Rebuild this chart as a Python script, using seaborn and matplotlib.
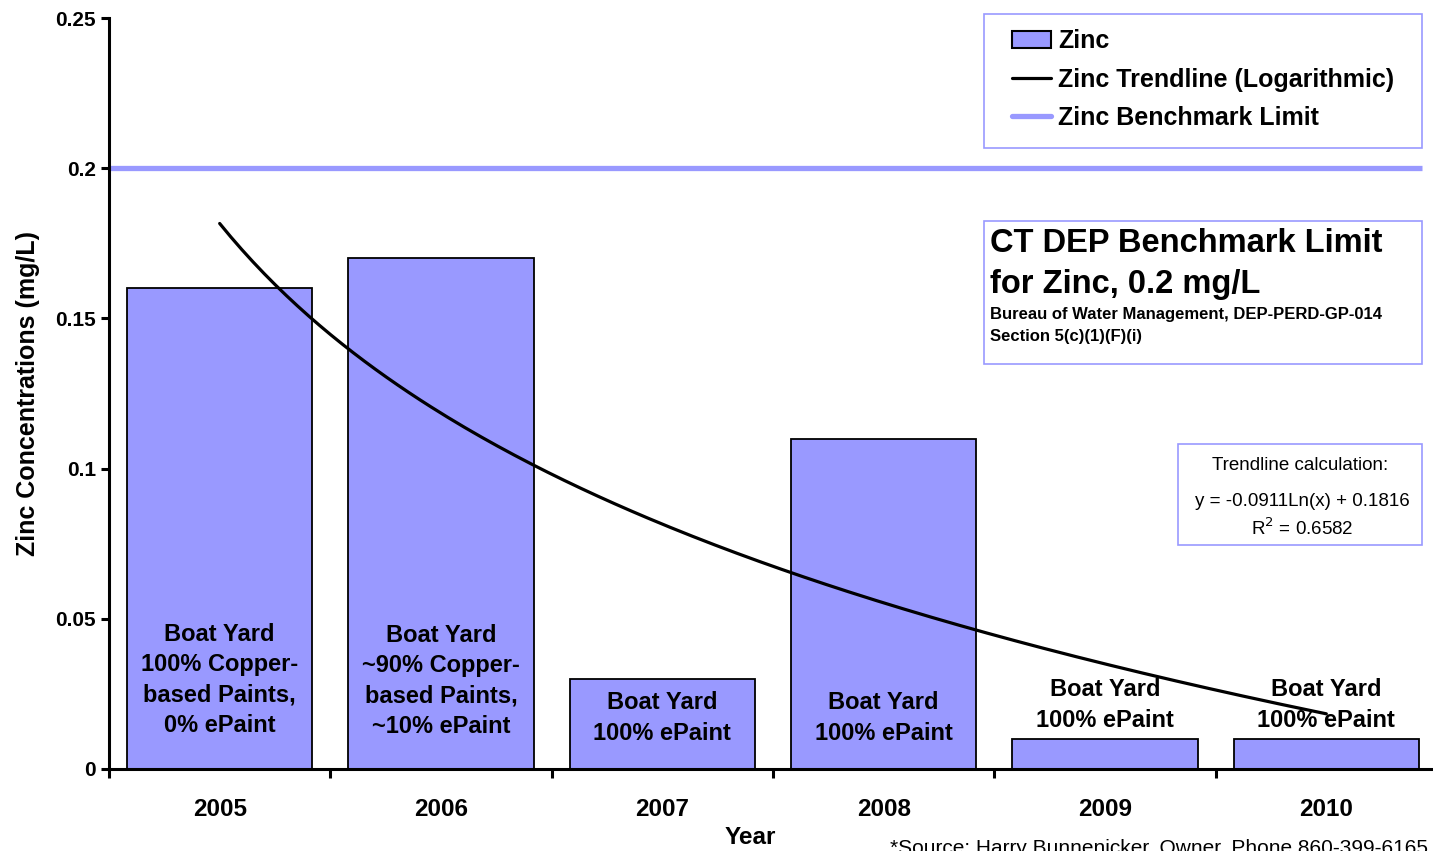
import numpy as np
import pandas as pd
import matplotlib
matplotlib.use("Agg")
import matplotlib.pyplot as plt
from matplotlib.patches import Patch, Rectangle
from matplotlib.lines import Line2D
import seaborn as sns

# ---------------- data ----------------
years = ["2005", "2006", "2007", "2008", "2009", "2010"]
zinc = [0.16, 0.17, 0.03, 0.11, 0.01, 0.01]
benchmark = 0.2
trend_a = -0.0911
trend_b = 0.1816
r_squared = 0.6582
bar_notes = [
    "Boat Yard\n100% Copper-\nbased Paints,\n0% ePaint",
    "Boat Yard\n~90% Copper-\nbased Paints,\n~10% ePaint",
    "Boat Yard\n100% ePaint",
    "Boat Yard\n100% ePaint",
    "Boat Yard\n100% ePaint",
    "Boat Yard\n100% ePaint",
]
note_y = [0.0296, 0.0293, 0.017, 0.017, 0.0213, 0.0213]
y_ticks = [0, 0.05, 0.1, 0.15, 0.2, 0.25]
y_ticklabels = ["0", "0.05", "0.1", "0.15", "0.2", "0.25"]

# ---------------- style ----------------
sns.set_style("white")
plt.rcParams["font.family"] = ["Liberation Sans", "DejaVu Sans"]
plt.rcParams["text.color"] = "black"
plt.rcParams["axes.labelcolor"] = "black"
plt.rcParams["xtick.color"] = "black"
plt.rcParams["ytick.color"] = "black"
BAR = "#9999FF"
W, H = 1433, 851

fig = plt.figure(figsize=(W / 100, H / 100), dpi=100)
ax = fig.add_axes([109 / W, 1 - 769 / H, (1437 - 109) / W, (769 - 18) / H])

df = pd.DataFrame({"Year": years, "Zinc": zinc})
sns.barplot(data=df, x="Year", y="Zinc", color=BAR, saturation=1,
            edgecolor="black", linewidth=1.3, width=0.836, ax=ax, zorder=2)

# benchmark line
ax.axhline(benchmark, xmin=0, xmax=(1422 - 109) / (1437 - 109),
           color=BAR, lw=3.8, zorder=1, solid_capstyle="butt")

# logarithmic trendline  y = a ln(x) + b, x = 1..6
xs = np.linspace(1, len(years), 200)
trend = pd.DataFrame({"x": xs - 1, "y": trend_a * np.log(xs) + trend_b})
sns.lineplot(data=trend, x="x", y="y", color="black", lw=2.3, ax=ax, zorder=4)

# bar notes
for i, (txt, yy) in enumerate(zip(bar_notes, note_y)):
    ax.text(i, yy, txt, ha="center", va="center", fontsize=17,
            fontweight="bold", linespacing=1.42, zorder=3, color="black")

ax.set_xlim(-0.5, 5.5)
ax.set_ylim(0, 0.25)
ax.set_yticks(y_ticks)
ax.set_yticklabels(y_ticklabels)
ax.set_xlabel("")
ax.set_ylabel("Zinc Concentrations (mg/L)", fontsize=18, fontweight="bold")
ax.yaxis.set_label_coords(-0.052, 0.5)

for s in ["top", "right"]:
    ax.spines[s].set_visible(False)
for s in ["left", "bottom"]:
    ax.spines[s].set_linewidth(2.2)
    ax.spines[s].set_color("black")

ax.tick_params(axis="y", which="major", length=5.5, width=2.2, pad=4,
               labelsize=15, direction="out", left=True)
for lab in ax.get_yticklabels():
    lab.set_fontweight("bold")
ax.set_xticks(np.arange(-0.5, 5.51, 1.0), minor=True)
ax.tick_params(axis="x", which="minor", length=6.5, width=2.2, direction="out", bottom=True)
ax.tick_params(axis="x", which="major", length=0, pad=21, labelsize=17.5)
for lab in ax.get_xticklabels():
    lab.set_fontweight("bold")
ax.grid(False)
ax.set_facecolor("white")

# x label
fig.text(750 / W, 1 - 838 / H, "Year", ha="center", va="center",
         fontsize=17.5, fontweight="bold")

# legend
handles = [
    Patch(facecolor=BAR, edgecolor="black", lw=1.5, label="Zinc"),
    Line2D([], [], color="black", lw=2.3, label="Zinc Trendline (Logarithmic)"),
    Line2D([], [], color=BAR, lw=3.8, label="Zinc Benchmark Limit"),
]
fig.patches.append(Rectangle((984 / W, 1 - 148 / H), (1422 - 984) / W, (148 - 14) / H,
                             transform=fig.transFigure, fill=False,
                             edgecolor=BAR, lw=1.2))
leg = fig.legend(handles=handles, loc="upper left",
                 bbox_to_anchor=(1012 / W, 1 - 29 / H), frameon=False,
                 prop={"weight": "bold", "size": 18}, handlelength=1.55,
                 handleheight=0.65, handletextpad=0.3, labelspacing=0.58,
                 borderpad=0, borderaxespad=0)

# CT DEP box
fig.patches.append(Rectangle((984 / W, 1 - 364 / H), (1422 - 984) / W, (364 - 221) / H,
                             transform=fig.transFigure, facecolor="white",
                             edgecolor=BAR, lw=1.2, zorder=5))
fig.text(990 / W, 1 - 264 / H, "CT DEP Benchmark Limit\nfor Zinc, 0.2 mg/L",
         ha="left", va="center", fontsize=23.5, fontweight="bold",
         linespacing=1.42, zorder=6)
fig.text(990 / W, 1 - 325.5 / H,
         "Bureau of Water Management, DEP-PERD-GP-014\nSection 5(c)(1)(F)(i)",
         ha="left", va="center", fontsize=12, fontweight="bold",
         linespacing=1.58, zorder=6)

# trendline calculation box
fig.patches.append(Rectangle((1178 / W, 1 - 545 / H), (1422 - 1178) / W, (545 - 444) / H,
                             transform=fig.transFigure, facecolor="white",
                             edgecolor=BAR, lw=1.2, zorder=5))
fig.text(1300 / W, 1 - 466 / H, "Trendline calculation:", ha="center", va="center",
         fontsize=13.5, zorder=6)
fig.text(1302 / W, 1 - 501 / H, f"y = {trend_a}Ln(x) + {trend_b}", ha="center",
         va="center", fontsize=13.5, zorder=6)
fig.text(1302 / W, 1 - 528 / H, f"R$^2$ = {r_squared}", ha="center", va="center",
         fontsize=13.5, zorder=6)

# source note (sits at the bottom edge as in the original)
fig.text(890 / W, 1 - 839 / H, "*Source: Harry Bunnenicker, Owner, Phone 860-399-6165",
         ha="left", va="top", fontsize=15)

fig.savefig("out.png", dpi=100, facecolor="white")
